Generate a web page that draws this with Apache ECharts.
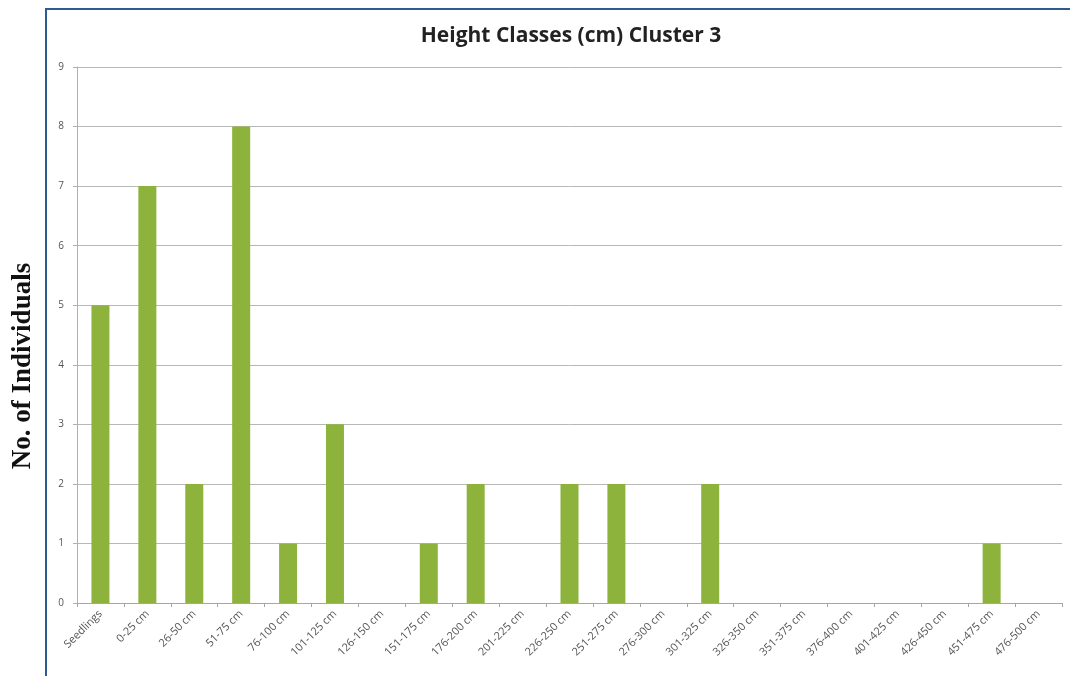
<!DOCTYPE html>
<html>
<head>
<meta charset="utf-8">
<script src="https://cdn.jsdelivr.net/npm/echarts@6/dist/echarts.min.js"></script>
<style>html,body{margin:0;padding:0;background:#fff;}#c{width:1070px;height:676px;}</style>
</head>
<body>
<div id="c"></div>
<script>
const categories = ['Seedlings','0-25 cm','26-50 cm','51-75 cm','76-100 cm','101-125 cm','126-150 cm','151-175 cm','176-200 cm','201-225 cm','226-250 cm','251-275 cm','276-300 cm','301-325 cm','326-350 cm','351-375 cm','376-400 cm','401-425 cm','426-450 cm','451-475 cm','476-500 cm'];
const individuals = [5,7,2,8,1,3,0,1,2,0,2,2,0,2,0,0,0,0,0,1,0];
const yTicks = [0,1,2,3,4,5,6,7,8,9];

const chart = echarts.init(document.getElementById('c'));
chart.setOption({
  animation:false,
  backgroundColor:'#ffffff',
  title:{text:'Height Classes (cm) Cluster 3',left:566,top:21,textAlign:'center',
    textStyle:{fontFamily:'Open Sans',fontWeight:'bold',fontSize:21,color:'#222'}},
  graphic:[
    {type:'rect',shape:{x:46,y:9,width:1100,height:800},style:{fill:'none',stroke:'#2e5a94',lineWidth:2}},
    {type:'text',x:23,y:366,rotation:Math.PI/2,
      style:{text:'No. of Individuals',fontFamily:'Liberation Serif',fontWeight:'bold',fontSize:27,fill:'#111',
        align:'center',verticalAlign:'middle'}}
  ],
  grid:{left:77,right:8,top:67,bottom:73,containLabel:false},
  xAxis:{type:'category',data:categories,boundaryGap:true,
    axisLine:{lineStyle:{color:'#a6a6a6'}},
    axisTick:{show:true,alignWithLabel:false,length:4,lineStyle:{color:'#a6a6a6'}},
    axisLabel:{rotate:45,interval:0,fontSize:11,color:'#555',fontFamily:'Open Sans',margin:9}},
  yAxis:{type:'value',min:0,max:9,interval:1,
    axisLine:{show:true,lineStyle:{color:'#b0b0b0'}},
    axisTick:{show:true,length:4,lineStyle:{color:'#b0b0b0'}},
    splitLine:{lineStyle:{color:'#b8b8b8'}},
    axisLabel:{fontSize:10,color:'#555',fontFamily:'Open Sans',margin:13,
      formatter:v=>yTicks.includes(v)?String(v):''}},
  series:[{type:'bar',data:individuals,barWidth:18,itemStyle:{color:'#8db33d'}}]
});
</script>
</body>
</html>
